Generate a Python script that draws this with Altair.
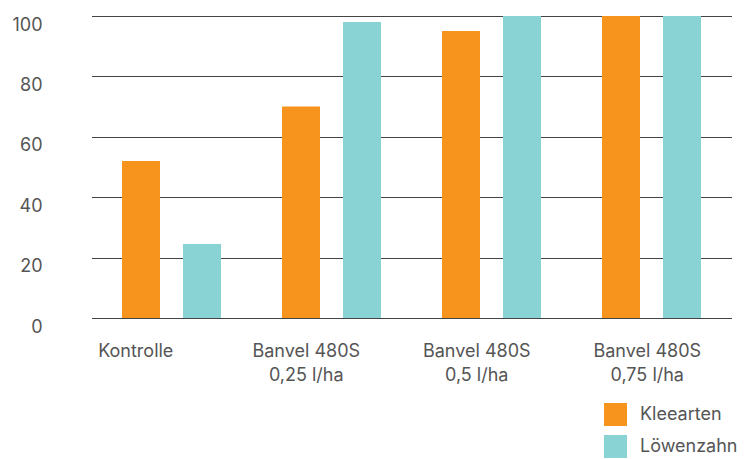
import altair as alt
import pandas as pd

groups = ["Kontrolle", "Banvel 480S\n0,25 l/ha", "Banvel 480S\n0,5 l/ha", "Banvel 480S\n0,75 l/ha"]
series = ["Kleearten", "Löwenzahn"]
klee = [52, 70, 95, 100]
loewenzahn = [24.5, 98, 100, 100]
colors = ["#F7941D", "#8AD3D5"]

rows = []
for g, k, l in zip(groups, klee, loewenzahn):
    rows.append({"group": g, "series": series[0], "value": k})
    rows.append({"group": g, "series": series[1], "value": l})
df = pd.DataFrame(rows)

base = alt.Chart(df)

bars = base.mark_bar(width=38).encode(
    x=alt.X("group:N", sort=groups, axis=None,
            scale=alt.Scale(range=[41.5, 681.5], paddingInner=0, paddingOuter=0)),
    xOffset=alt.XOffset("series:N", sort=series,
                        scale=alt.Scale(paddingInner=0.377, paddingOuter=0.5)),
    y=alt.Y("value:Q", title=None,
            scale=alt.Scale(domain=[0, 100], nice=False),
            axis=alt.Axis(values=[0, 20, 40, 60, 80, 100], domain=False, ticks=False,
                          tickSize=0, labelPadding=8, labelBaseline="top",
                          labelFontSize=18, labelColor="#555555",
                          gridColor="#444444", gridWidth=1)),
    color=alt.Color("series:N", sort=series,
                    scale=alt.Scale(domain=series, range=colors),
                    legend=alt.Legend(title=None, orient="none", legendX=554, legendY=387,
                                      symbolType="square", symbolSize=529,
                                      symbolStrokeWidth=0, rowPadding=9,
                                      labelOffset=13, labelFontSize=18,
                                      labelColor="#555555", labelBaseline="middle",
                                      padding=0)),
)

labels = base.mark_text(text="").encode(
    x=alt.X("group:N", sort=groups, title=None,
            scale=alt.Scale(range=[0, 682], paddingInner=0, paddingOuter=0),
            axis=alt.Axis(orient="bottom", labelAngle=0, domain=False, ticks=False,
                          tickSize=0, grid=False, labelPadding=24,
                          labelExpr="split(datum.label, '\\n')",
                          labelLineHeight=24, labelFontSize=18,
                          labelColor="#555555")),
)

chart = alt.layer(bars, labels).resolve_scale(x="independent").properties(
    width=678, height=302,
    autosize=alt.AutoSizeParams(type="none"),
    padding={"left": 42, "top": 8, "right": 13, "bottom": 160},
).configure(font="Inter").configure_view(stroke=None)

chart.save("out.html", embed_options={"renderer": "svg", "actions": False})
